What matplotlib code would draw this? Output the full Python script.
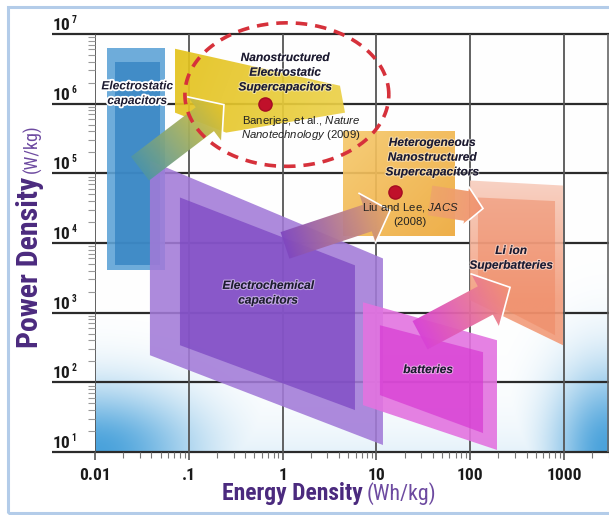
import numpy as np
import matplotlib
matplotlib.use("Agg")
import matplotlib.pyplot as plt
from matplotlib.patches import Polygon, Rectangle
from matplotlib import patheffects as pe
from matplotlib import font_manager as fm
from matplotlib.colors import to_rgba
from matplotlib.ticker import FixedLocator, LogLocator, NullFormatter
from matplotlib.transforms import blended_transform_factory, offset_copy

# ---------------- data (Energy density Wh/kg, Power density W/kg) ----------------
x_ticks = [0.01, 0.1, 1, 10, 100, 1000]
x_tick_labels = ["0.01", ".1", "1", "10", "100", "1000"]
y_ticks = [1e1, 1e2, 1e3, 1e4, 1e5, 1e6, 1e7]
y_tick_exponents = ["1", "2", "3", "4", "5", "6", "7"]

electrostatic_outer = [(0.0134, 6.34e6), (0.0557, 6.34e6), (0.0557, 4.05e3), (0.0134, 4.05e3)]
electrostatic_inner = [(0.0162, 3.9e6), (0.0490, 3.9e6), (0.0490, 4.8e3), (0.0162, 4.8e3)]
echem_outer = [(0.0385, 1.52e5), (11.75, 6.0e3), (11.75, 12.6), (0.0385, 245)]
echem_inner = [(0.0805, 4.5e4), (5.91, 4.78e3), (5.91, 40), (0.0805, 341)]
batt_outer = [(7.19, 1.41e3), (193, 402), (193, 10.7), (7.19, 47.1)]
batt_inner = [(10.9, 660), (137, 271), (137, 18.7), (10.9, 65.6)]
hetero_block = [(4.40, 4.10e5), (68.9, 4.10e5), (68.9, 1.28e4), (4.40, 1.28e4)]
liion_outer = [(99.5, 7.89e4), (975, 6.68e4), (975, 341), (99.5, 1.51e3)]
liion_inner = [(121, 4.5e4), (802, 4.0e4), (802, 475), (121, 1.77e3)]
nano_fan = [(0.0713, 6.14e6), (4.09, 1.81e6), (4.63, 7.43e5), (0.250, 3.84e5), (0.0713, 7.43e5)]

arrow_electrostatic = [(0.0302, 1.17e5), (0.237, 9.68e5)]
arrow_echem = [(1.06, 9.24e3), (14.0, 2.93e4)]
arrow_hetero = [(37.3, 4.08e4), (137, 3.13e4)]
arrow_batt = [(29.2, 475), (266, 2.31e3)]

dot_E = [0.648, 15.8]
dot_P = [1.0e6, 5.31e4]

ellipse_center = (1.11, 1.35e6)
ellipse_half_decades = (1.087, 1.03)

labels = [
    ("Electrostatic\ncapacitors", 0.0281, 1.39e6, True),
    ("Nanostructured\nElectrostatic\nSupercapacitors", 1.06, 2.78e6, False),
    ("Heterogeneous\nNanostructured\nSupercapacitors", 39.2, 1.68e5, False),
    ("Li ion\nSuperbatteries", 272, 6.02e3, False),
    ("Electrochemical\ncapacitors", 0.698, 1.90e3, False),
    ("batteries", 35.5, 150, False),
]
citation1 = ["Banerjee, et al., $\\it{Nature}$", "$\\it{Nanotechnology}$ $\\it{(2009)}$"]
citation1_pos = (1.57, 4.46e5)
citation2 = ["Liu and Lee, $\\it{JACS}$", "(2008)"]
citation2_pos = (22.8, 2.57e4)

# ---------------- fonts ----------------
names = {f.name for f in fm.fontManager.ttflist}
NARROW, STRETCH = None, "normal"
for cand in ["Liberation Sans Narrow", "Roboto Condensed", "Open Sans Condensed",
             "DejaVu Sans Condensed", "Arial Narrow"]:
    if cand in names:
        NARROW = cand
        break
if NARROW is None:
    if any(f.name == "DejaVu Sans" and str(f.stretch) in ("condensed", "semi-condensed")
           for f in fm.fontManager.ttflist):
        NARROW, STRETCH = "DejaVu Sans", "condensed"
    else:
        NARROW = "Liberation Sans" if "Liberation Sans" in names else "DejaVu Sans"
SANS = "Liberation Sans" if "Liberation Sans" in names else "DejaVu Sans"
plt.rcParams["font.family"] = [SANS, "DejaVu Sans"]
plt.rcParams["mathtext.fontset"] = "custom"
plt.rcParams["mathtext.rm"] = SANS
plt.rcParams["mathtext.it"] = SANS + ":italic"

W, H = 609, 515
fig = plt.figure(figsize=(W / 100, H / 100), dpi=100)
fig.patch.set_facecolor("white")
renderer = fig.canvas.get_renderer()

L, R, B, T = 95, 609, 452, 34
ax = fig.add_axes([L / W, (H - B) / H, (R - L) / W, (B - T) / H])
ax.set_xscale("log")
ax.set_yscale("log")
ax.set_xlim(1e-2, 10 ** (-2 + (R - L) / 93.8))
ax.set_ylim(1e1, 1e7)
ax.set_autoscale_on(False)
for s in ax.spines.values():
    s.set_visible(False)
ax.set_facecolor("none")

ax.xaxis.set_major_locator(FixedLocator(x_ticks))
ax.xaxis.set_minor_locator(LogLocator(base=10, subs=np.arange(2, 10)))
ax.yaxis.set_major_locator(FixedLocator(y_ticks))
ax.yaxis.set_minor_locator(LogLocator(base=10, subs=np.arange(2, 10)))
for axis in (ax.xaxis, ax.yaxis):
    axis.set_major_formatter(NullFormatter())
    axis.set_minor_formatter(NullFormatter())
ax.tick_params(axis="x", which="major", direction="out", length=6, width=1.2, color="#555555")
ax.tick_params(axis="x", which="minor", direction="out", length=4.5, width=0.8, color="#777777")
ax.tick_params(axis="y", which="major", length=0)
ax.tick_params(axis="y", which="minor", direction="out", length=5, width=0.8, color="#999999")

# ---------------- background gradient ----------------
n = 300
gx, gy = np.meshgrid(np.linspace(0, 1, n), np.linspace(0, 1, n))
a1 = 0.92 * np.exp(-((gx / 0.20) ** 2 + (gy / 0.15) ** 2))
a2 = 0.92 * np.exp(-(((1 - gx) / 0.11) ** 2 + (gy / 0.20) ** 2))
a3 = 0.13 * np.exp(-gy / 0.09)
a = np.clip(np.maximum(np.maximum(a1, a2), a3), 0, 1)[..., None]
blue = np.array(to_rgba("#3a9ad8")[:3])
bg = (1 - a) * np.ones(3) + a * blue
ax.imshow(bg, extent=(0, 1, 0, 1), transform=ax.transAxes, origin="lower",
          aspect="auto", zorder=0, interpolation="bilinear")

# ---------------- grid lines ----------------
bt = blended_transform_factory(ax.transAxes, ax.transData)
for yv in y_ticks:
    ax.plot([-(L - 52) / (R - L), 1], [yv, yv], transform=bt, color="#2b2b2b",
            lw=1.6, clip_on=False, zorder=1.5, solid_capstyle="butt")
for xv in x_ticks:
    ax.axvline(xv, color="#555555", lw=1.3, zorder=1.5)
ax.plot([0.998, 0.998], [0, 1], transform=ax.transAxes, color="#666666", lw=1.2, zorder=1.5)


def poly(verts, color, alpha=0.9, z=2):
    p = Polygon(verts, closed=True, facecolor=color, edgecolor="none", alpha=alpha, zorder=z)
    ax.add_patch(p)
    return p


def grad_fill(verts, c0, c1, p0, p1, alpha=0.92, z=2):
    p = Polygon(verts, closed=True, facecolor="none", edgecolor="none", zorder=z)
    ax.add_patch(p)
    d0 = ax.transAxes.inverted().transform(ax.transData.transform(p0))
    d1 = ax.transAxes.inverted().transform(ax.transData.transform(p1))
    wpx, hpx = R - L, B - T
    dx, dy = (d1[0] - d0[0]) * wpx, (d1[1] - d0[1]) * hpx
    t = ((gx - d0[0]) * wpx * dx + (gy - d0[1]) * hpx * dy) / (dx * dx + dy * dy)
    t = np.clip(t, 0, 1)[..., None]
    col = (1 - t) * np.array(to_rgba(c0)) + t * np.array(to_rgba(c1))
    col[..., 3] *= alpha
    im = ax.imshow(col, extent=(0, 1, 0, 1), transform=ax.transAxes, origin="lower",
                   aspect="auto", zorder=z, interpolation="bilinear")
    im.set_clip_path(p)
    return p


def arrow_verts(tail, tip, shaft_w, head_w, head_l):
    Td = ax.transData
    p0 = Td.transform(tail)
    p1 = Td.transform(tip)
    d = p1 - p0
    u = d / np.hypot(*d)
    nrm = np.array([-u[1], u[0]])
    hb = p1 - u * head_l
    pts = [p0 + nrm * shaft_w / 2, hb + nrm * shaft_w / 2, hb + nrm * head_w / 2, p1,
           hb - nrm * head_w / 2, hb - nrm * shaft_w / 2, p0 - nrm * shaft_w / 2]
    return Td.inverted().transform(np.array(pts))


def draw_arrow(arr, c0, c1, shaft_w, head_w, head_l, z=3.2):
    v = arrow_verts(arr[0], arr[1], shaft_w, head_w, head_l)
    grad_fill(v, c0, c1, arr[0], arr[1], alpha=0.95, z=z)
    ax.plot(v[2:5, 0], v[2:5, 1], color="white", lw=1.2, zorder=z + 0.01,
            solid_joinstyle="miter")


# ---------------- shapes ----------------
poly(electrostatic_outer, "#5ea3d6", alpha=0.9, z=2.0)
poly(electrostatic_inner, "#2f7fbf", alpha=0.7, z=2.05)

poly(echem_outer, "#a27ad8", alpha=0.88, z=2.1)
poly(echem_inner, "#7b45c2", alpha=0.72, z=2.15)

grad_fill(nano_fan, "#e3c21a", "#ecd14a", nano_fan[0], nano_fan[2], alpha=0.92, z=2.2)
grad_fill(hetero_block, "#f6c96c", "#eda83a", hetero_block[0], hetero_block[2], alpha=0.92, z=2.3)
grad_fill(liion_outer, "#f8cdbd", "#f29a78", liion_outer[0], liion_outer[3], alpha=0.9, z=2.3)
poly(liion_inner, "#ee8660", alpha=0.5, z=2.35)

poly(batt_outer, "#e373e0", alpha=0.9, z=2.4)
poly(batt_inner, "#d634d2", alpha=0.65, z=2.45)

draw_arrow(arrow_electrostatic, "#4f95a6", "#e6c428", 30, 56, 24)
draw_arrow(arrow_echem, "#8048c0", "#e6a864", 28, 52, 24)
draw_arrow(arrow_hetero, "#eea868", "#f19272", 30, 38, 17)
draw_arrow(arrow_batt, "#d843d6", "#f19274", 32, 60, 28)

# ---------------- highlight ellipse & points ----------------
th = np.linspace(0, 2 * np.pi, 300)
ex = 10 ** (np.log10(ellipse_center[0]) + ellipse_half_decades[0] * np.cos(th))
ey = 10 ** (np.log10(ellipse_center[1]) + ellipse_half_decades[1] * np.sin(th))
ax.plot(ex, ey, color="#d6313b", lw=2.6, ls=(0, (3.2, 2.2)), zorder=4, clip_on=False)
ax.plot(dot_E, dot_P, "o", color="#c0102a", ms=9.5, mec="#a50c22", zorder=5)

# ---------------- labels inside ----------------
for txt, xv, yv, halo in labels:
    t = ax.text(xv, yv, txt, ha="center", va="center", fontsize=8.6, fontweight="bold",
                fontstyle="italic", family=SANS, color="#1c1a30", linespacing=1.3, zorder=6,
                multialignment="center")
    if halo:
        t.set_path_effects([pe.withStroke(linewidth=2.6, foreground="white")])
    else:
        t.set_path_effects([pe.withStroke(linewidth=1.6, foreground=(1, 1, 1, 0.45))])


def lines_text(lines, pos, size=8.2, line_px=14.5):
    """Centered multi-line citation, one text object per line."""
    for i, s in enumerate(lines):
        off = offset_copy(ax.transData, fig=fig, x=0,
                          y=(len(lines) - 1) * line_px / 2 - i * line_px, units="dots")
        ax.text(pos[0], pos[1], s, transform=off, ha="center", va="center", fontsize=size,
                color="#222222", zorder=6)


lines_text(citation1, citation1_pos)
lines_text(citation2, citation2_pos)

# ---------------- tick labels ----------------
tick_size = 12.5
ty = blended_transform_factory(ax.transAxes, ax.transData)
ty = offset_copy(ty, fig=fig, x=0, y=4, units="dots")
for yv, ex_ in zip(y_ticks, y_tick_exponents):
    t10 = ax.text(-(L - 53) / (R - L), yv, "10", transform=ty, ha="left", va="baseline",
                  fontsize=tick_size, fontweight="bold", family=NARROW, fontstretch=STRETCH,
                  color="#1a1a1a", clip_on=False)
    w10 = t10.get_window_extent(renderer).width
    te = offset_copy(ty, fig=fig, x=w10 + 0.5, y=7, units="dots")
    ax.text(-(L - 53) / (R - L), yv, ex_, transform=te, ha="left", va="baseline",
            fontsize=tick_size * 0.55, fontweight="bold", family=NARROW, fontstretch=STRETCH,
            color="#1a1a1a", clip_on=False)

tx = blended_transform_factory(ax.transData, ax.transAxes)
for xv, lab in zip(x_ticks, x_tick_labels):
    ax.text(xv, -(480 - B) / (B - T), lab, transform=tx, ha="center", va="baseline",
            fontsize=tick_size, fontweight="bold", family=NARROW, fontstretch=STRETCH,
            color="#1a1a1a", clip_on=False)


def fit(t, target_w, max_size=None):
    w = t.get_window_extent(renderer).width
    s = t.get_fontsize() * target_w / w
    if max_size is not None:
        s = min(s, max_size)
    t.set_fontsize(s)
    return s


# ---------------- axis titles ----------------
purple = "#4b2a7e"
t1 = fig.text(222 / W, (H - 500) / H, "Energy Density", ha="left", va="baseline", fontsize=17,
              fontweight="bold", family=NARROW, fontstretch=STRETCH, color=purple)
fit(t1, 141, max_size=17.5)
t2 = fig.text(367 / W, (H - 500) / H, "(Wh/kg)", ha="left", va="baseline", fontsize=15,
              family=NARROW, fontstretch=STRETCH, color="#6d4aa0")
fit(t2, 70, max_size=16)

t3 = fig.text(0, 0, "Power Density", rotation=90, rotation_mode="anchor",
              ha="left", va="baseline", fontsize=21.5, fontweight="bold", family=NARROW,
              fontstretch=STRETCH, color=purple)
t4 = fig.text(0, 0, "(W/kg)", rotation=90, rotation_mode="anchor",
              ha="left", va="baseline", fontsize=13, family=NARROW, fontstretch=STRETCH,
              color="#6d4aa0")
h3 = t3.get_window_extent(renderer).height
h4 = t4.get_window_extent(renderer).height
total = h3 + 4 + h4
start = 236 + total / 2          # pixel row (from top) of the label's lower end
t3.set_position((38 / W, (H - start) / H))
t4.set_position((38 / W, (H - (start - h3 - 4)) / H))

# ---------------- frame ----------------
fig.patches.append(Rectangle((8 / W, 2 / H), 1.2, (513 - 7) / H, transform=fig.transFigure,
                             fill=False, edgecolor="#b3cce9", lw=2.2, zorder=0))

fig.savefig("out.png", dpi=100)
